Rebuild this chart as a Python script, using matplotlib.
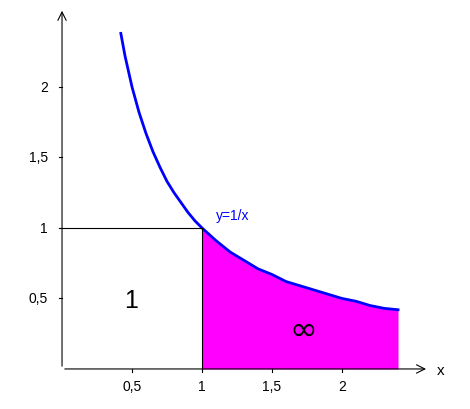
import matplotlib
matplotlib.use("Agg")
import matplotlib.pyplot as plt
import numpy as np

curve_x = [0.42, 0.45, 0.5, 0.55, 0.6, 0.65, 0.7, 0.75, 0.8, 0.85, 0.9, 0.95, 1.0, 1.1, 1.2, 1.3, 1.4, 1.5,
           1.6, 1.7, 1.8, 1.9, 2.0, 2.1, 2.2, 2.3, 2.4]
curve_y = [2.38, 2.22, 2.0, 1.82, 1.67, 1.54, 1.43, 1.33, 1.25, 1.18, 1.11, 1.05, 1.0, 0.91, 0.83, 0.77, 0.71, 0.67,
           0.62, 0.59, 0.56, 0.53, 0.5, 0.48, 0.45, 0.43, 0.42]
xticks = [0.5, 1, 1.5, 2]
xtick_labels = ["0,5", "1", "1,5", "2"]
yticks = [0.5, 1, 1.5, 2]
ytick_labels = ["0,5", "1", "1,5", "2"]

fig = plt.figure(figsize=(4.7, 4.1), dpi=100)
ax = fig.add_axes([0, 0, 1, 1])
ax.set_xlim(-0.443, 2.914)
ax.set_ylim(-0.284, 2.624)
ax.axis("off")

cx = np.array(curve_x)
cy = np.array(curve_y)
mask = cx >= 1.0
ax.fill_between(cx[mask], 0, cy[mask], color="#ff00ff", lw=0)
ax.plot(cx, cy, color="#0000ff", lw=2)

# unit square
ax.plot([0, 1], [1, 1], color="black", lw=0.8)
ax.plot([1, 1], [0, 1], color="black", lw=0.8)

# axes with arrows
ax.annotate("", xy=(2.62, 0), xytext=(0, 0),
            arrowprops=dict(arrowstyle="->", lw=0.8, color="black", mutation_scale=15))
ax.annotate("", xy=(0, 2.56), xytext=(0, 0),
            arrowprops=dict(arrowstyle="->", lw=0.8, color="black", mutation_scale=15))

for t, lab in zip(xticks, xtick_labels):
    ax.plot([t, t], [0, -0.02], color="black", lw=0.8)
    ax.text(t, -0.07, lab, ha="center", va="top", fontsize=10, family="Liberation Sans")
for t, lab in zip(yticks, ytick_labels):
    ax.plot([0, -0.02], [t, t], color="black", lw=0.8)
    ax.text(-0.1, t, lab, ha="right", va="center", fontsize=10, family="Liberation Sans")

ax.text(2.68, -0.01, "x", ha="left", va="center", fontsize=11, family="Liberation Sans")
ax.text(0.49, 0.49, "1", ha="center", va="center", fontsize=18, family="Liberation Sans")
ax.text(1.72, 0.28, "\u221e", ha="center", va="center", fontsize=24)
ax.text(1.1, 1.09, "y=1/x", ha="left", va="center", fontsize=10, color="#0000ff", family="Liberation Sans")

fig.savefig("out.png", dpi=100)
